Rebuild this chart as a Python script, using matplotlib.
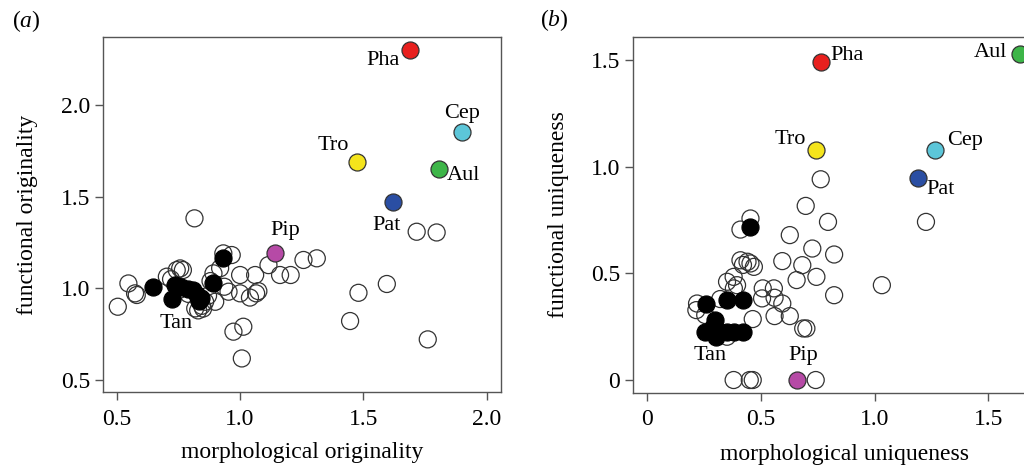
import matplotlib.pyplot as plt

plt.rcParams["font.family"] = ["Liberation Serif", "DejaVu Serif"]
plt.rcParams["mathtext.fontset"] = "custom"
plt.rcParams["mathtext.it"] = "Liberation Serif:italic"
plt.rcParams["mathtext.rm"] = "Liberation Serif"

# ---- panel (a): originality ----
orig_open_x = [0.504, 0.547, 0.574, 0.581, 0.703, 0.743, 0.757, 0.768, 0.815, 0.818,
               0.845, 0.858, 0.899, 0.892, 0.919, 0.932, 0.966, 0.936, 0.953, 0.973,
               1.013, 1.007, 1.000, 1.000, 1.040, 1.061, 1.065, 1.074, 1.115, 1.162,
               1.205, 1.257, 1.311, 1.446, 1.480, 1.595, 1.716, 1.797, 1.761, 0.750,
               0.790, 0.830, 0.850, 0.870, 0.880, 0.720]
orig_open_y = [0.900, 1.027, 0.973, 0.964, 1.064, 1.100, 1.109, 1.100, 1.382, 0.891,
               0.905, 0.927, 0.927, 1.082, 1.110, 1.191, 1.182, 1.009, 0.982, 0.764,
               0.791, 0.618, 1.073, 0.973, 0.950, 1.073, 0.973, 0.985, 1.127, 1.073,
               1.073, 1.155, 1.164, 0.822, 0.976, 1.024, 1.309, 1.305, 0.722, 0.990,
               0.970, 0.880, 0.890, 0.960, 1.040, 1.050]
orig_tan_x = [0.645, 0.725, 0.735, 0.760, 0.790, 0.810, 0.825, 0.835, 0.840, 0.890, 0.930]
orig_tan_y = [1.005, 0.940, 1.020, 1.005, 0.995, 0.990, 0.965, 0.930, 0.950, 1.030, 1.165]
orig_names = ["Pha", "Cep", "Tro", "Aul", "Pat", "Pip"]
orig_named_x = [1.689, 1.899, 1.473, 1.808, 1.619, 1.142]
orig_named_y = [2.300, 1.851, 1.691, 1.651, 1.469, 1.191]

# ---- panel (b): uniqueness ----
uniq_open_x = [0.218, 0.215, 0.254, 0.762, 0.696, 0.794, 1.225, 0.626, 0.409, 0.453,
               0.725, 0.821, 0.593, 0.681, 0.409, 0.440, 0.453, 0.468, 0.379, 0.350,
               0.394, 0.380, 0.656, 0.743, 1.031, 0.507, 0.556, 0.504, 0.559, 0.593,
               0.821, 0.463, 0.559, 0.626, 0.685, 0.699, 0.379, 0.450, 0.463, 0.740,
               0.350, 0.320, 0.420]
uniq_open_y = [0.359, 0.328, 0.305, 0.942, 0.817, 0.742, 0.742, 0.680, 0.706, 0.758,
               0.617, 0.589, 0.558, 0.539, 0.562, 0.555, 0.547, 0.531, 0.484, 0.461,
               0.445, 0.430, 0.469, 0.484, 0.445, 0.430, 0.430, 0.383, 0.386, 0.359,
               0.398, 0.286, 0.300, 0.300, 0.242, 0.242, 0.000, 0.000, 0.000, 0.000,
               0.203, 0.380, 0.540]
uniq_tan_x = [0.259, 0.350, 0.421, 0.449, 0.254, 0.290, 0.320, 0.350, 0.380, 0.420,
              0.299, 0.303, 0.290]
uniq_tan_y = [0.359, 0.375, 0.375, 0.719, 0.227, 0.227, 0.227, 0.227, 0.227, 0.227,
              0.281, 0.203, 0.250]
uniq_names = ["Pha", "Aul", "Tro", "Cep", "Pat", "Pip"]
uniq_named_x = [0.762, 1.637, 0.743, 1.265, 1.188, 0.656]
uniq_named_y = [1.492, 1.531, 1.081, 1.081, 0.948, 0.000]

colors = {"Pha": "#e8201e", "Cep": "#5cc6d9", "Tro": "#f4e41c",
          "Aul": "#3db548", "Pat": "#2a4ea3", "Pip": "#b64aa6"}

# label offsets in pixels (dx, dy, ha)
offs_a = {"Pha": (-10, -10, "right"), "Cep": (0, 19, "center"), "Tro": (-8, 16, "right"),
          "Aul": (7, -6, "left"), "Pat": (-6, -23, "center"), "Pip": (10, 23, "center")}
offs_b = {"Pha": (10, 7, "left"), "Aul": (-12, 1, "right"), "Tro": (-10, 10, "right"),
          "Cep": (12, 9, "left"), "Pat": (9, -12, "left"), "Pip": (7, 25, "center")}

W, H = 1024, 466
fig = plt.figure(figsize=(W / 100, H / 100), dpi=100)

ax1 = fig.add_axes([103 / W, 1 - 392 / H, 398 / W, 355 / H])
ax2 = fig.add_axes([632.7 / W, 1 - 392.7 / H, 424 / W, 356 / H])

MS = 150
EC = "#333333"


def draw(ax, ox, oy, tx, ty, names, nx, ny, offs):
    ax.scatter(ox, oy, s=MS, facecolors="none", edgecolors=EC, linewidths=0.9, zorder=2)
    ax.scatter(tx, ty, s=MS, color="black", edgecolors="black", linewidths=0.9, zorder=3)
    for n, x, y in zip(names, nx, ny):
        ax.scatter([x], [y], s=MS, color=colors[n], edgecolors=EC, linewidths=0.9, zorder=4)
        dx, dy, ha = offs[n]
        ax.annotate(n, (x, y), xytext=(dx, dy), textcoords="offset pixels",
                    ha=ha, va="center", fontsize=16)
    for s in ax.spines.values():
        s.set_color("#555555")
        s.set_linewidth(1.0)
    ax.tick_params(direction="out", length=6, width=1.0, color="#555555",
                   labelsize=17, pad=3)
    ax.tick_params(axis="x", pad=6)


draw(ax1, orig_open_x, orig_open_y, orig_tan_x, orig_tan_y,
     orig_names, orig_named_x, orig_named_y, offs_a)
ax1.text(0.739, 0.809, "Tan", ha="center", va="center", fontsize=16)
ax1.set_xlim(0.444, 2.058)
ax1.set_ylim(0.435, 2.371)
ax1.set_xticks([0.5, 1.0, 1.5, 2.0])
ax1.set_xticklabels(["0.5", "1.0", "1.5", "2.0"])
ax1.set_yticks([0.5, 1.0, 1.5, 2.0])
ax1.set_yticklabels(["0.5", "1.0", "1.5", "2.0"])
ax1.set_xlabel("morphological originality", fontsize=17, labelpad=9)
ax1.set_ylabel("functional originality", fontsize=17, labelpad=17)

draw(ax2, uniq_open_x, uniq_open_y, uniq_tan_x, uniq_tan_y,
     uniq_names, uniq_named_x, uniq_named_y, offs_b)
ax2.text(0.276, 0.117, "Tan", ha="center", va="center", fontsize=16)
ax2.set_xlim(-0.065, 1.80)
ax2.set_ylim(-0.0595, 1.611)
ax2.set_xticks([0, 0.5, 1.0, 1.5])
ax2.set_xticklabels(["0", "0.5", "1.0", "1.5"])
ax2.set_yticks([0, 0.5, 1.0, 1.5])
ax2.set_yticklabels(["0", "0.5", "1.0", "1.5"])
ax2.set_xlabel("morphological uniqueness", fontsize=17, labelpad=10)
ax2.set_ylabel("functional uniqueness", fontsize=17, labelpad=16)

fig.text(12 / W, 1 - 21 / H, r"($\it{a}$)", fontsize=17, va="center")
fig.text(540 / W, 1 - 20 / H, r"($\it{b}$)", fontsize=17, va="center")

fig.savefig("out.png", dpi=100)
